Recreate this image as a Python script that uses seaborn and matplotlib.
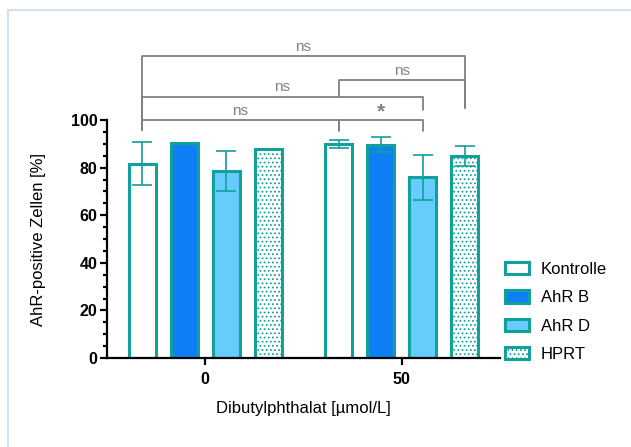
import pandas as pd
import matplotlib.pyplot as plt
import seaborn as sns
from matplotlib.patches import Rectangle
from matplotlib.ticker import MultipleLocator

# values (mean, SD)
doses = ['0', '50']
groups = ['Kontrolle', 'AhR B', 'AhR D', 'HPRT']
kontrolle_mean = [81.6, 89.9]
kontrolle_sd = [9.0, 1.7]
ahr_b_mean = [90.3, 89.6]
ahr_b_sd = [0.0, 3.2]
ahr_d_mean = [78.5, 76.0]
ahr_d_sd = [8.5, 9.5]
hprt_mean = [87.9, 84.9]
hprt_sd = [0.0, 4.2]

# significance brackets: (dose, group) from, (dose, group) to, label
comparisons = [
    (('0', 'Kontrolle'), ('50', 'HPRT'), 'ns'),
    (('50', 'Kontrolle'), ('50', 'HPRT'), 'ns'),
    (('0', 'Kontrolle'), ('50', 'AhR D'), 'ns'),
    (('0', 'Kontrolle'), ('50', 'Kontrolle'), 'ns'),
    (('50', 'Kontrolle'), ('50', 'AhR D'), '*'),
]

teal = '#12a09b'
grey = '#808080'
face = {'Kontrolle': 'white', 'AhR B': '#0f7ff5', 'AhR D': '#66ccfc', 'HPRT': 'white'}

rows = []
for g, m, s in [('Kontrolle', kontrolle_mean, kontrolle_sd), ('AhR B', ahr_b_mean, ahr_b_sd),
                ('AhR D', ahr_d_mean, ahr_d_sd), ('HPRT', hprt_mean, hprt_sd)]:
    for d, mv, sv in zip(doses, m, s):
        rows.append({'dose': d, 'group': g, 'mean': mv, 'sd': sv})
df = pd.DataFrame(rows)

sns.set_style('ticks')
plt.rcParams['font.family'] = ['Liberation Sans', 'DejaVu Sans']
plt.rcParams['text.color'] = 'black'
plt.rcParams['axes.labelcolor'] = 'black'
plt.rcParams['xtick.color'] = 'black'
plt.rcParams['ytick.color'] = 'black'
plt.rcParams['hatch.color'] = teal
plt.rcParams['hatch.linewidth'] = 0.8

fig = plt.figure(figsize=(6.31, 4.47), dpi=100)
ax = fig.add_axes([107 / 631, 1 - 358 / 447, (500 - 107) / 631, (358 - 120) / 447])

sns.barplot(data=df, x='dose', y='mean', hue='group', order=doses, hue_order=groups,
            palette=face, saturation=1, width=0.855, gap=0.36, edgecolor=teal, linewidth=2.2,
            errorbar=None, legend=False, ax=ax, zorder=2)

bar_containers = list(ax.containers)
centers = {}
for g, cont in zip(groups, bar_containers):
    bars = sorted(cont.patches, key=lambda b: b.get_x())
    for d, bar in zip(doses, bars):
        centers[(d, g)] = bar.get_x() + bar.get_width() / 2
        if g == 'HPRT':
            bar.set_hatch('....')

for _, r in df.iterrows():
    if r['sd'] > 0:
        ax.errorbar(centers[(r['dose'], r['group'])], r['mean'], yerr=r['sd'],
                    fmt='none', ecolor=teal, elinewidth=1.2, capsize=7, capthick=1.2, zorder=3)

ax.set_xlim(-0.5, 1.5)
ax.set_ylim(0, 100)
ax.yaxis.set_major_locator(MultipleLocator(20))
ax.yaxis.set_minor_locator(MultipleLocator(5))
sns.despine(ax=ax)
for side in ['left', 'bottom']:
    ax.spines[side].set_linewidth(1.6)
    ax.spines[side].set_color('black')
ax.tick_params(axis='both', which='major', length=5, width=1.6, labelsize=11.5, pad=2)
ax.tick_params(axis='x', which='major', pad=5)
ax.tick_params(axis='y', which='minor', length=3, width=1.6)
for lab in ax.get_xticklabels() + ax.get_yticklabels():
    lab.set_fontweight('bold')
ax.set_ylabel('AhR-positive Zellen [%]', fontsize=12, labelpad=18)
ax.set_xlabel('Dibutylphthalat [µmol/L]', fontsize=12, labelpad=10)

# bracket heights in data units
bracket_y = [126.9, 116.8, 109.7, 100.0, 100.0]
leg_bottom = [(95.8, 105.0), (109.7, 105.0), (95.8, 104.2), (95.8, 95.8), (95.5, 95.5)]
for (a, b, label), y, (l1, l2) in zip(comparisons, bracket_y, leg_bottom):
    x1, x2 = centers[a], centers[b]
    ax.plot([x1, x1, x2, x2], [l1, y, y, l2], color=grey, lw=1.3, clip_on=False, zorder=4)
    if label == '*':
        ax.text((x1 + x2) / 2, y + 1.0, label, ha='center', va='baseline', color=grey,
                fontsize=15, fontweight='bold', clip_on=False)
    else:
        ax.text((x1 + x2) / 2, y + 2.3, label, ha='center', va='baseline', color=grey,
                fontsize=11, clip_on=False)

handles = [cont.patches[0] for cont in bar_containers]
ax.legend(handles, groups, loc='upper left', bbox_to_anchor=(505 / 631, 1 - 262 / 447),
          bbox_transform=fig.transFigure, frameon=False, fontsize=12,
          handlelength=1.45, handleheight=0.75, handletextpad=0.7, labelspacing=0.8,
          borderaxespad=0, borderpad=0)

fig.patches.append(Rectangle((8 / 631, -0.5), 2, 1.5 - 10 / 447, transform=fig.transFigure,
                             fill=False, edgecolor='#cfe2f4', lw=1.5))

fig.savefig('out.png', dpi=100)
